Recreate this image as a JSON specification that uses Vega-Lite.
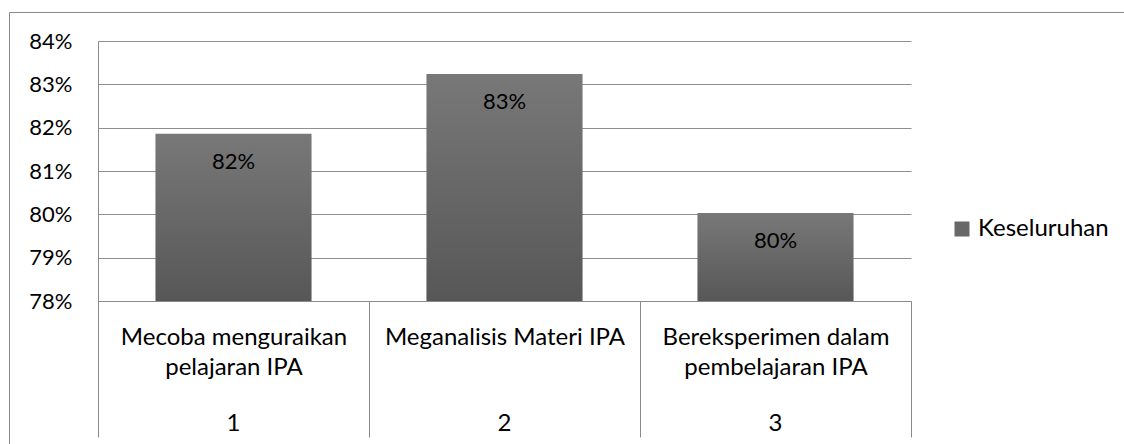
{
  "$schema": "https://vega.github.io/schema/vega-lite/v6.json",
  "width": 1115,
  "height": 432,
  "autosize": {"type": "none"},
  "padding": {"left": 9, "top": 12, "right": 0, "bottom": 0},
  "background": "white",
  "config": {"view": {"stroke": "#8a8a8a", "strokeWidth": 1}, "font": "Lato"},
  "data": {
    "values": [
      {"no": "1", "kategori": "Mecoba menguraikan pelajaran IPA", "seri": "Keseluruhan", "nilai": 0.8186},
      {"no": "2", "kategori": "Meganalisis Materi IPA", "seri": "Keseluruhan", "nilai": 0.8324},
      {"no": "3", "kategori": "Bereksperimen dalam pembelajaran IPA", "seri": "Keseluruhan", "nilai": 0.8003}
    ]
  },
  "resolve": {"axis": {"x": "independent"}},
  "encoding": {
    "x": {
      "field": "no",
      "type": "nominal",
      "sort": null,
      "scale": {"range": [89, 902], "paddingInner": 0, "paddingOuter": 0},
      "axis": {
        "orient": "bottom",
        "offset": -143,
        "title": null,
        "grid": false,
        "domainColor": "#8a8a8a",
        "tickColor": "#8a8a8a",
        "tickBand": "extent",
        "tickSize": 136,
        "labelAngle": 0,
        "labelBaseline": "top",
        "labelPadding": -112,
        "labelFont": "Lato",
        "labelFontSize": 24,
        "labelLineHeight": 30,
        "labelColor": "black",
        "labelLimit": 0,
        "labelOverlap": false,
        "labelExpr": "datum.value == '1' ? ['Mecoba menguraikan', 'pelajaran IPA'] : datum.value == '2' ? 'Meganalisis Materi IPA' : datum.value == '3' ? ['Bereksperimen dalam', 'pembelajaran IPA'] : ''"
      }
    },
    "y": {
      "field": "nilai",
      "type": "quantitative",
      "scale": {"domain": [0.78, 0.84], "range": [289, 29], "nice": false, "zero": false},
      "axis": {
        "title": null,
        "values": [0.78, 0.79, 0.8, 0.81, 0.82, 0.83, 0.84],
        "format": ".0%",
        "offset": -89,
        "ticks": false,
        "labelPadding": 26,
        "labelFont": "Lato",
        "labelFontSize": 22,
        "labelColor": "black",
        "domainColor": "#8a8a8a",
        "grid": true,
        "gridColor": "#8e8e8e",
        "gridWidth": 1
      }
    }
  },
  "layer": [
    {
      "mark": {
        "type": "bar",
        "width": {"band": 0.576},
        "fill": {"gradient": "linear", "x1": 0, "y1": 0, "x2": 0, "y2": 1,
                  "stops": [{"offset": 0, "color": "#787878"}, {"offset": 1, "color": "#575757"}]}
      },
      "encoding": {"y2": {"datum": 0.78}}
    },
    {
      "mark": {"type": "square", "size": 0, "opacity": 0},
      "encoding": {
        "x": {"field": "no", "type": "nominal", "sort": null, "axis": null},
        "color": {
          "field": "seri",
          "type": "nominal",
          "scale": {"range": ["#686868"]},
          "legend": {
            "title": null,
            "orient": "none",
            "legendX": 941,
            "legendY": 205,
            "padding": 0,
            "symbolType": "square",
            "symbolSize": 225,
            "symbolOpacity": 1,
            "symbolStrokeWidth": 0,
            "labelFont": "Lato",
            "labelFontSize": 24,
            "labelColor": "black",
            "labelOffset": 4
          }
        }
      }
    },
    {
      "mark": {"type": "text", "baseline": "middle", "dy": 28, "fontSize": 22, "color": "black", "font": "Lato"},
      "encoding": {
        "x": {
          "field": "no",
          "type": "nominal",
          "sort": null,
          "axis": {
            "orient": "bottom",
            "offset": -143,
            "title": null,
            "grid": false,
            "domain": false,
            "ticks": false,
            "labelAngle": 0,
            "labelBaseline": "middle",
            "labelPadding": 122,
            "labelFont": "Lato",
            "labelFontSize": 24,
            "labelColor": "black",
            "labelOverlap": false
          }
        },
        "text": {"field": "nilai", "type": "quantitative", "format": ".0%"}
      }
    }
  ]
}
